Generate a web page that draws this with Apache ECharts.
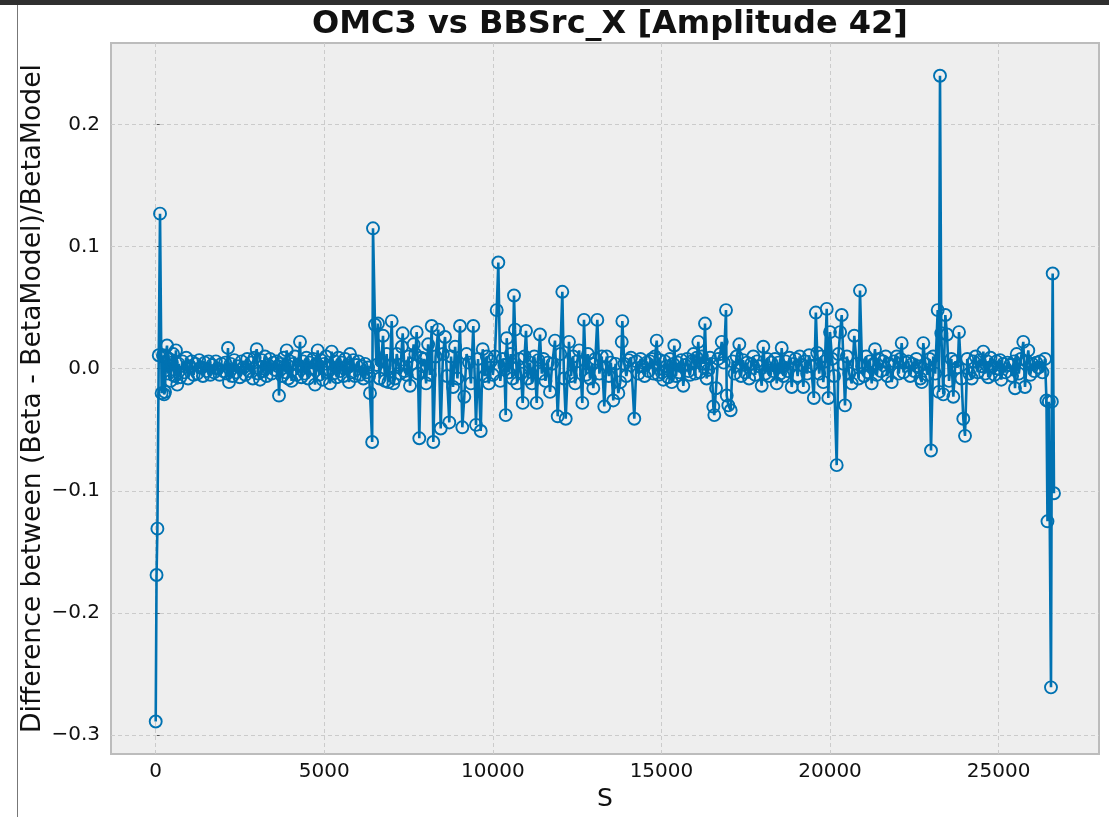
<!DOCTYPE html>
<html>
<head>
<meta charset="utf-8">
<script src="https://cdn.jsdelivr.net/npm/echarts@6/dist/echarts.min.js"></script>
<style>
html,body{margin:0;padding:0;background:#ffffff;}
#chart{width:1109px;height:817px;}
</style>
</head>
<body>
<div id="chart"></div>
<script>
const chartTitle = 'OMC3 vs BBSrc_X [Amplitude 42]';
const xAxisName = 'S';
const yAxisName = 'Difference between (Beta - BetaModel)/BetaModel';
const xTicks = [0, 5000, 10000, 15000, 20000, 25000];
const yTicks = [-0.3, -0.2, -0.1, 0.0, 0.1, 0.2];
const xRange = [-1326, 27978];
const yRange = [-0.3156, 0.2668];

// [S, relative beta difference]
const ipRegion1 = [
  [0,-0.289],[25,-0.169],[50,-0.131],[90,0.011],[128,0.127],[175,-0.020],[215,0.011],[250,-0.021],[276,-0.019],[300,0.010],
  [335,0.019],[370,-0.004],[400,0.008],[440,-0.010],[480,0.005],[520,0.012],[560,-0.006],[600,0.015],[640,-0.013],[680,0.004]
];
const arc12 = [
  [730,-0.007],[790,0.006],[850,-0.003],[905,0.009],[960,-0.008],[1015,0.002],[1070,0.006],[1125,-0.005],[1180,0.004],[1235,-0.004],
  [1290,0.007],[1345,0.001],[1400,-0.006],[1455,0.005],[1510,-0.002],[1565,0.006],[1620,-0.005],[1675,0.003],[1730,-0.003],[1785,0.006],
  [1840,0.000],[1895,-0.005],[1950,0.004],[2005,-0.002],[2060,0.005],[2110,-0.004],[2144,0.017],[2174,-0.011],[2220,0.004],[2275,-0.006],
  [2330,0.007],[2385,-0.003],[2440,0.002],[2495,-0.007],[2550,0.006],[2605,0.001],[2660,-0.005],[2715,0.008],[2770,-0.002],[2825,0.005],
  [2880,-0.008],[2935,0.009],[2996,0.016],[3040,-0.004],[3094,-0.009],[3140,0.007],[3190,-0.002],[3240,0.010],[3290,-0.006],[3340,0.003],
  [3390,0.008],[3440,-0.004],[3490,0.005],[3540,-0.001],[3590,0.006],[3630,0.002],[3657,-0.022],[3700,0.004]
];
const arc23 = [
  [3750,-0.006],[3800,0.009],[3850,-0.003],[3885,0.015],[3930,-0.008],[3980,0.006],[4030,-0.010],[4080,0.004],[4130,0.010],[4180,-0.005],
  [4230,0.003],[4280,0.022],[4320,-0.007],[4370,0.006],[4420,-0.004],[4470,0.009],[4520,-0.008],[4570,0.005],[4620,0.000],[4670,0.008],
  [4725,-0.013],[4765,0.004],[4805,0.015],[4850,-0.005],[4900,0.007],[4950,-0.009],[5000,0.004],[5050,0.010],[5100,-0.003],[5170,-0.012],
  [5220,0.014],[5270,-0.004],[5320,0.006],[5370,-0.007],[5420,0.009],[5470,-0.002],[5520,0.005],[5570,-0.006],[5620,0.008],[5670,0.001],
  [5733,-0.011],[5763,0.012],[5810,-0.003],[5860,0.007],[5910,-0.006],[5960,0.003],[6010,0.006],[6060,-0.005],[6110,0.002],[6160,-0.008],
  [6210,0.004],[6260,-0.003],[6300,0.001],[6330,-0.006],[6356,-0.020],[6420,-0.060],[6445,0.115]
];
const section3to5 = [
  [6504,0.036],[6550,0.003],[6593,0.037],[6640,-0.008],[6690,0.006],[6742,0.027],[6800,-0.010],[6850,0.012],[6900,-0.011],[6949,0.002],
  [7000,0.039],[7050,-0.012],[7098,-0.008],[7150,0.012],[7200,0.003],[7250,-0.004],[7300,0.018],[7326,0.029],[7380,-0.002],[7445,-0.005],
  [7500,0.010],[7543,-0.014],[7600,0.004],[7650,0.020],[7700,0.012],[7741,0.030],[7780,-0.004],[7818,-0.057],[7870,0.009],[7920,0.002],
  [7967,0.008],[8020,-0.012],[8080,0.020],[8130,-0.005],[8186,0.035],[8234,-0.060],[8300,0.010],[8382,0.032],[8453,-0.049],[8520,0.012],
  [8581,0.026],[8640,-0.006],[8708,-0.044],[8760,0.010],[8820,-0.015],[8880,0.018],[8950,-0.008],[9025,0.035],[9094,-0.048],[9153,-0.023],
  [9220,0.012],[9290,0.005],[9350,-0.012],[9420,0.035],[9500,-0.046],[9560,0.008],[9640,-0.051],[9699,0.016],[9760,-0.006],[9820,0.010],
  [9880,-0.012],[9940,0.006],[10000,-0.005],[10060,0.010],[10114,0.048],[10162,0.087],[10220,-0.010],[10290,0.008],[10340,0.003],[10381,-0.038],
  [10411,0.025],[10470,-0.003],[10530,0.012],[10580,-0.008],[10627,0.060],[10657,0.032],[10720,-0.012],[10780,0.008],[10830,-0.004],[10885,-0.028],
  [10940,0.010],[10983,0.031],[11040,-0.008],[11100,0.005],[11160,-0.012],[11230,0.010],[11301,-0.028],[11350,0.007],[11398,0.028],[11450,-0.004]
];
const section5to6 = [
  [11500,0.008],[11560,-0.010],[11630,0.005],[11695,-0.019],[11760,0.004],[11843,0.023],[11923,-0.039],[12000,0.012],[12060,0.063],[12110,-0.008],
  [12161,-0.041],[12258,0.022],[12320,-0.006],[12380,0.010],[12440,-0.012],[12500,0.006],[12560,0.015],[12653,-0.028],[12703,0.040],[12760,-0.005],
  [12820,0.012],[12880,-0.008],[12940,0.004],[12979,-0.016],[13040,0.008],[13098,0.040],[13160,-0.004],[13230,0.010],[13305,-0.031],[13377,0.010],
  [13440,-0.006],[13500,0.005],[13572,-0.026],[13640,0.004],[13721,-0.020],[13780,-0.011],[13822,0.022],[13840,0.039],[13900,0.004],[13960,-0.006],
  [14030,0.007],[14097,0.009],[14195,-0.041],[14260,0.006],[14320,-0.004],[14380,0.008],[14440,0.002],[14500,-0.006],[14560,0.005],[14620,-0.002],
  [14660,0.006],[14711,0.008],[14760,-0.004],[14810,0.010],[14860,0.023],[14910,-0.005],[14960,0.007]
];
const section6to8 = [
  [15010,-0.003],[15055,-0.009],[15100,0.006],[15150,0.002],[15200,-0.007],[15250,0.008],[15305,-0.011],[15350,0.004],[15382,0.019],[15430,-0.006],
  [15480,0.005],[15530,-0.003],[15590,0.007],[15649,-0.014],[15700,0.003],[15760,0.008],[15800,-0.002],[15848,-0.005],[15900,0.006],[15950,0.012],
  [16000,-0.004],[16050,0.009],[16094,0.022],[16140,-0.003],[16200,0.010],[16250,0.004],[16292,0.037],[16340,-0.008],[16390,-0.001],[16440,0.009],
  [16490,0.004],[16539,-0.031],[16568,-0.038],[16619,-0.016],[16680,0.008],[16740,0.012],[16788,0.022],[16850,0.005],[16915,0.048],[16936,-0.022],
  [16983,-0.030],[17054,-0.034],[17110,0.006],[17170,-0.004],[17230,0.010],[17310,0.020],[17360,-0.006],[17420,0.007],[17480,-0.003],[17540,0.005],
  [17600,-0.008],[17660,0.004],[17725,0.010],[17780,-0.005],[17840,0.006],[17900,0.002],[17974,-0.014],[18022,0.018],[18080,-0.004],[18140,0.008],
  [18200,-0.006],[18260,0.005],[18320,-0.002],[18369,0.008],[18419,-0.012],[18470,0.005],[18520,-0.004],[18567,0.017],[18620,-0.006],[18680,0.006],
  [18740,-0.002],[18800,0.009],[18864,-0.015],[18920,0.004],[18980,0.008],[19040,-0.006],[19100,0.010],[19160,0.003],[19208,-0.015],[19260,0.006],
  [19320,-0.004],[19380,0.011],[19440,0.002],[19520,-0.024],[19580,0.046]
];
const section8to1 = [
  [19620,0.013],[19680,-0.004],[19740,0.010],[19801,-0.011],[19850,0.006],[19902,0.049],[19950,-0.024],[20000,0.030],[20060,0.008],[20120,-0.006],
  [20198,-0.079],[20250,0.012],[20300,0.030],[20347,0.044],[20400,0.004],[20444,-0.030],[20500,0.010],[20570,-0.004],[20643,-0.012],[20720,0.027],
  [20790,0.004],[20850,-0.008],[20889,0.064],[20950,0.002],[21010,-0.006],[21070,0.010],[21130,-0.003],[21180,0.006],[21236,-0.012],[21290,0.004],
  [21334,0.016],[21390,-0.005],[21450,0.008],[21510,-0.002],[21580,0.006],[21652,0.010],[21700,-0.006],[21760,0.004],[21830,-0.011],[21900,0.006],
  [21978,0.010],[22040,-0.004],[22090,0.008],[22126,0.021],[22180,-0.003],[22250,0.005],[22322,0.006],[22380,-0.006],[22440,0.004],[22500,-0.002],
  [22560,0.008],[22620,0.002],[22680,-0.008],[22720,-0.011],[22767,0.021],[22830,0.004],[22890,-0.005],[22950,0.008],[22995,-0.067]
];
const section1end = [
  [23060,0.010],[23120,-0.004],[23194,0.048],[23230,-0.019],[23262,0.240],[23300,0.029],[23360,-0.021],[23420,0.044],[23470,0.028],[23530,-0.010],
  [23600,0.008],[23657,-0.023],[23720,0.006],[23790,0.001],[23826,0.030],[23900,-0.008],[23953,-0.041],[24004,-0.055],[24070,0.008],[24130,-0.004],
  [24203,-0.008],[24260,0.006],[24320,0.010],[24380,-0.003],[24440,0.007],[24500,0.002],[24547,0.014],[24600,-0.004],[24660,0.006],[24695,-0.007],
  [24760,0.009],[24820,0.002],[24880,-0.005],[24940,0.006],[25000,0.000],[25042,0.007],[25080,-0.009],[25140,0.004],[25200,-0.003],[25260,0.005],
  [25339,0.003],[25400,-0.006],[25460,0.006],[25487,-0.016],[25537,0.012],[25600,-0.004],[25660,0.008],[25733,0.022],[25783,-0.015],[25840,0.006],
  [25881,0.015],[25940,-0.005],[26000,0.004],[26060,-0.002],[26120,0.005],[26180,0.001],[26228,0.006],[26300,-0.003],[26376,0.008],[26420,-0.026],
  [26450,-0.125],[26490,-0.027],[26554,-0.261],[26580,-0.027],[26604,0.078],[26643,-0.102]
];

const points = [].concat(ipRegion1, arc12, arc23, section3to5, section5to6, section6to8, section8to1, section1end);

const blue = '#0072B2';
const font = 'DejaVu Sans';
const fmtY = v => (v < 0 ? '\u2212' : '') + Math.abs(v).toFixed(1);

const chart = echarts.init(document.getElementById('chart'), null, {renderer: 'canvas'});
chart.setOption({
  animation: false,
  backgroundColor: '#ffffff',
  title: {
    text: chartTitle, left: 605, top: 4, textAlign: 'center',
    textStyle: {fontFamily: font, fontWeight: 'bold', fontSize: 32, color: '#111111'}
  },
  graphic: [
    {type: 'rect', shape: {x: 0, y: 0, width: 1109, height: 5}, style: {fill: '#2f2f2f'}, silent: true},
    {type: 'rect', shape: {x: 17, y: 5, width: 1, height: 812}, style: {fill: '#777777'}, silent: true}
  ],
  grid: {
    left: 111, right: 10, top: 43, bottom: 60,
    show: true, backgroundColor: '#eeeeee', borderColor: '#bcbcbc', borderWidth: 2
  },
  xAxis: {
    type: 'value', min: xRange[0], max: xRange[1],
    name: xAxisName, nameLocation: 'middle', nameGap: 33,
    nameTextStyle: {fontFamily: font, fontSize: 25, color: '#111111'},
    axisLine: {show: false},
    splitLine: {show: false},
    axisTick: {show: true, inside: true, length: 4, customValues: xTicks, lineStyle: {color: '#555555'}},
    axisLabel: {customValues: xTicks, fontFamily: font, fontSize: 20, color: '#111111', margin: 8,
      formatter: v => String(v)}
  },
  yAxis: {
    type: 'value', min: yRange[0], max: yRange[1],
    name: yAxisName, nameLocation: 'middle', nameGap: 64, nameMoveOverlap: false,
    nameTextStyle: {fontFamily: font, fontSize: 26.6, color: '#111111'},
    axisLine: {show: false},
    splitLine: {show: false},
    axisTick: {show: true, inside: true, length: 4, customValues: yTicks, lineStyle: {color: '#555555'}},
    axisLabel: {customValues: yTicks, fontFamily: font, fontSize: 20, color: '#111111', margin: 11,
      formatter: fmtY}
  },
  series: [
    {
      type: 'line', data: [], silent: true, z: 1,
      markLine: {
        z: 1, symbol: 'none', silent: true, animation: false, label: {show: false},
        lineStyle: {color: '#cbcbcb', type: [4, 3], width: 1},
        emphasis: {disabled: true},
        data: xTicks.map(v => ({xAxis: v})).concat(yTicks.map(v => ({yAxis: v})))
      }
    },
    {
      type: 'line', data: points, z: 3,
      symbol: 'circle', symbolSize: 12, showAllSymbol: true,
      lineStyle: {color: blue, width: 2.6},
      itemStyle: {color: 'rgba(0,0,0,0)', borderColor: blue, borderWidth: 1.9},
      emphasis: {disabled: true}
    }
  ]
});
</script>
</body>
</html>
